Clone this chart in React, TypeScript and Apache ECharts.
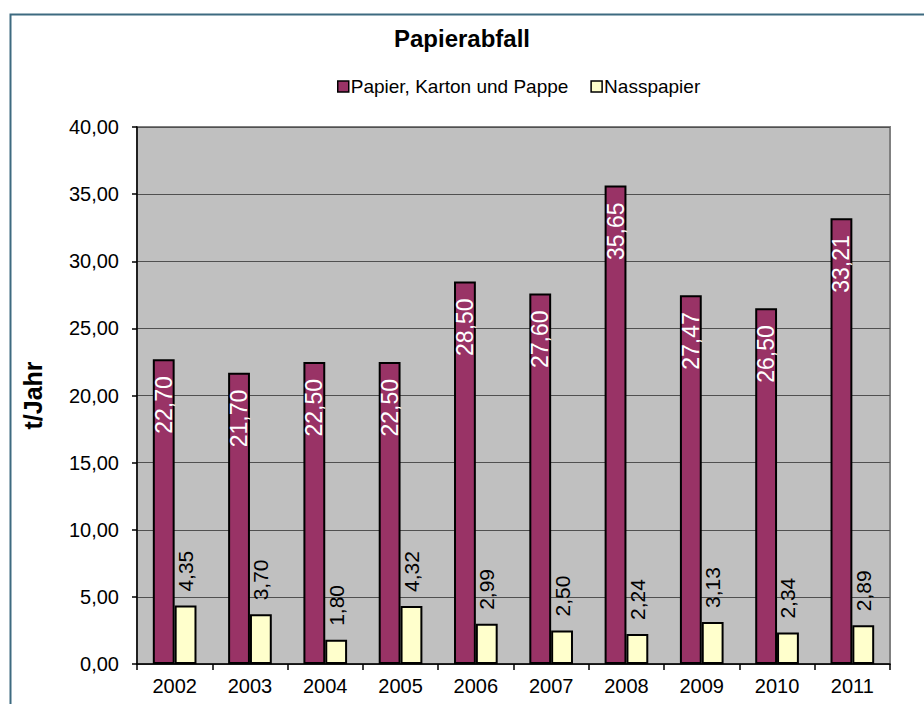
import React, { useEffect, useRef } from "react";
import * as echarts from "echarts";

const years = ["2002", "2003", "2004", "2005", "2006", "2007", "2008", "2009", "2010", "2011"];
const papierKartonPappe = [22.7, 21.7, 22.5, 22.5, 28.5, 27.6, 35.65, 27.47, 26.5, 33.21];
const nasspapier = [4.35, 3.7, 1.8, 4.32, 2.99, 2.5, 2.24, 3.13, 2.34, 2.89];

const fmt = (v: number) => v.toFixed(2).replace(".", ",");
const FONT = "Liberation Sans, Arial, sans-serif";

export default function App() {
  const ref = useRef<HTMLDivElement>(null);
  useEffect(() => {
    if (!ref.current) return;
    const chart = echarts.init(ref.current, undefined, { renderer: "svg" });
    chart.setOption({
      animation: false,
      backgroundColor: "#ffffff",
      textStyle: { fontFamily: FONT },
      title: {
        text: "Papierabfall",
        left: "center",
        top: 21,
        textStyle: { fontFamily: FONT, fontSize: 24, fontWeight: "bold", color: "#000" },
      },
      legend: {
        left: 332,
        top: 72,
        itemWidth: 11,
        itemHeight: 11,
        itemGap: 22,
        icon: "rect",
        textStyle: { fontFamily: FONT, fontSize: 19, color: "#000", padding: [0, 0, 0, -3] },
        data: [
          { name: "Papier, Karton und Pappe", itemStyle: { borderColor: "#000", borderWidth: 1.5 } },
          { name: "Nasspapier", itemStyle: { borderColor: "#000", borderWidth: 1.5 } },
        ],
      },
      grid: {
        left: 137,
        top: 127,
        right: 34,
        bottom: 40,
        show: true,
        backgroundColor: "#C0C0C0",
        borderColor: "#808080",
        borderWidth: 2,
      },
      xAxis: {
        type: "category",
        data: years,
        axisLine: { show: true, lineStyle: { color: "#000", width: 1.5 } },
        axisTick: { show: true, length: 6, lineStyle: { color: "#000", width: 1.5 } },
        axisLabel: { fontFamily: FONT, fontSize: 20, color: "#000", margin: 12 },
        splitLine: { show: false },
      },
      yAxis: {
        type: "value",
        min: 0,
        max: 40,
        interval: 5,
        name: "t/Jahr",
        nameLocation: "middle",
        nameRotate: 90,
        nameGap: 92,
        nameTextStyle: { fontFamily: FONT, fontSize: 25, fontWeight: "bold", color: "#000" },
        axisLine: { show: true, lineStyle: { color: "#000", width: 1.5 } },
        axisTick: { show: true, length: 5, lineStyle: { color: "#000", width: 1.5 } },
        axisLabel: { fontFamily: FONT, fontSize: 20, color: "#000", margin: 18, formatter: (v: number) => fmt(v) },
        splitLine: { show: true, lineStyle: { color: "#505050", width: 1 } },
      },
      series: [
        {
          name: "Papier, Karton und Pappe",
          type: "bar",
          data: papierKartonPappe,
          barWidth: "29%",
          barGap: "0%",
          itemStyle: { color: "#993366", borderColor: "#000", borderWidth: 2 },
          label: {
            show: true,
            position: "insideTop",
            rotate: 90,
            align: "right",
            verticalAlign: "middle",
            distance: 17,
            fontFamily: FONT,
            fontSize: 23,
            color: "#ffffff",
            formatter: (p: any) => fmt(p.value),
          },
        },
        {
          name: "Nasspapier",
          type: "bar",
          data: nasspapier,
          barWidth: "29%",
          barGap: "0%",
          itemStyle: { color: "#FFFFCC", borderColor: "#000", borderWidth: 2 },
          label: {
            show: true,
            position: "top",
            rotate: 90,
            align: "left",
            verticalAlign: "middle",
            distance: 14,
            fontFamily: FONT,
            fontSize: 21,
            color: "#000",
            formatter: (p: any) => fmt(p.value),
          },
        },
      ],
      graphic: [
        {
          type: "rect",
          left: 8,
          top: 12,
          shape: { x: 0, y: 0, width: 1000, height: 1000 },
          style: { fill: "none", stroke: "#3D6A80", lineWidth: 2 },
          silent: true,
        },
      ],
    });
    return () => chart.dispose();
  }, []);
  return <div ref={ref} style={{ position: "fixed", left: 0, top: 0, width: 924, height: 704 }} />;
}
